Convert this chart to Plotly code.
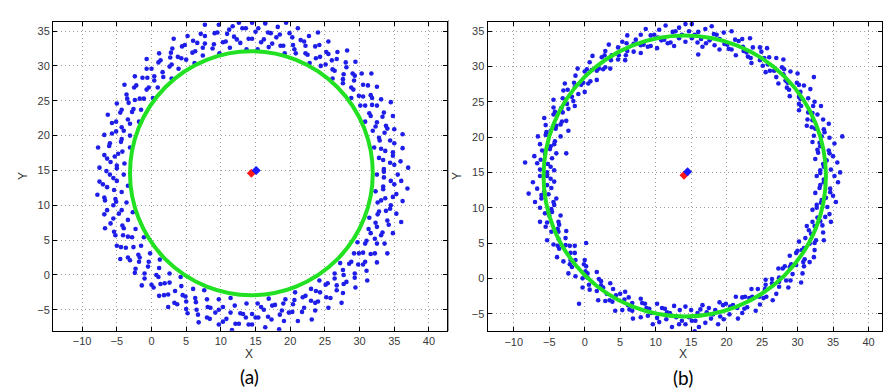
import plotly.graph_objects as go

# ---------------- data ----------------
x_ticks = [-10, -5, 0, 5, 10, 15, 20, 25, 30, 35, 40]
y_ticks = [-5, 0, 5, 10, 15, 20, 25, 30, 35]
captions = ["(a)", "(b)"]

# fitted circles: (cx, cy, r)
circle_a = (14.4, 14.6, 17.5)
circle_b = (14.1, 14.5, 19.9)

# estimated centres (red) and true centres (blue)
centre_red_a = (14.4, 14.6)
centre_blue_a = (15.1, 15.0)
centre_red_b = (14.0, 14.6)
centre_blue_b = (14.5, 15.1)

# scattered measurement points, panel (a)
points_a = [
    (32.5,14.4),(35.5,14.4),(33.5,15.2),(37.0,15.4),(34.4,16.1),(35.9,16.3),(32.8,16.8),(34.8,17.1),
    (33.7,17.8),(36.2,18.2),(32.1,18.3),(35.0,18.9),(32.9,19.3),(36.2,20.2),(33.6,20.4),(35.0,20.9),
    (31.9,20.7),(33.8,21.4),(32.5,21.9),(34.8,22.8),(30.8,22.0),(33.5,23.3),(31.4,23.2),(34.5,24.8),
    (31.8,24.4),(33.1,25.2),(30.1,24.3),(31.8,25.4),(30.5,25.6),(32.5,27.0),(28.8,25.4),(31.2,27.2),
    (29.1,26.6),(31.7,28.9),(29.2,27.9),(30.3,28.9),(27.6,27.5),(29.0,28.9),(27.7,28.8),(29.4,30.6),
    (26.1,28.2),(28.0,30.5),(26.1,29.5),(28.2,32.2),(26.0,30.8),(26.8,32.0),(24.4,30.0),(25.5,31.7),
    (24.3,31.3),(25.5,33.5),(22.8,30.4),(24.2,33.0),(22.5,31.6),(24.0,34.8),(22.2,32.9),(22.7,34.3),
    (20.8,31.8),(21.5,33.7),(20.4,33.0),(21.1,35.4),(19.2,31.8),(19.9,34.7),(18.6,32.9),(19.4,36.2),
    (18.0,34.1),(18.2,35.6),(16.9,32.7),(17.2,34.7),(16.2,33.8),(16.4,36.1),(15.3,32.4),(15.4,35.4),
    (14.5,33.9),(14.5,36.2),(13.7,32.4),(13.6,35.4),(12.8,33.3),(12.6,36.2),(11.9,34.2),(11.7,35.7),
    (11.3,32.6),(10.9,34.6),(10.3,33.4),(9.7,35.9),(9.8,31.8),(9.1,34.7),(8.8,32.5),(7.7,35.9),
    (7.7,33.2),(7.1,34.6),(7.4,31.5),(6.6,33.3),(6.3,32.1),(5.2,34.3),(6.2,30.4),(4.8,33.0),
    (5.0,30.9),(3.2,33.9),(3.8,31.3),(3.0,32.5),(3.9,29.6),(2.7,31.2),(2.6,29.9),(1.1,31.8),
    (2.9,28.2),(1.0,30.5),(1.7,28.4),(-0.7,31.0),(0.4,28.5),(-0.7,29.6),(0.9,26.9),(-0.6,28.3),
    (-0.4,26.9),(-2.4,28.5),(0.2,25.4),(-2.2,27.2),(-1.1,25.3),(-3.9,27.3),(-2.4,25.1),(-3.6,25.9),
    (-1.5,23.7),(-3.3,24.7),(-2.8,23.4),(-5.0,24.6),(-1.8,22.0),(-4.5,23.3),(-3.1,21.7),(-6.3,23.0),
    (-4.3,21.2),(-5.7,21.8),(-3.1,20.0),(-5.1,20.6),(-4.3,19.5),(-6.8,20.1),(-3.1,18.3),(-6.0,18.9),
    (-4.2,17.7),(-7.7,18.3),(-5.3,17.0),(-6.8,17.2),(-3.9,16.0),(-5.9,16.2),(-5.0,15.3),(-7.5,15.4),
    (-4.0,14.4),(-6.0,14.4),(-5.0,13.5),(-7.5,13.4),(-3.4,12.8),(-6.4,12.6),(-4.3,11.9),(-7.8,11.5),
    (-5.2,10.9),(-6.7,10.7),(-3.6,10.4),(-5.5,10.0),(-4.3,9.3),(-6.8,8.7),(-2.7,9.0),(-5.5,8.1),
    (-3.4,7.9),(-6.7,6.7),(-4.0,6.7),(-5.4,6.2),(-2.3,6.6),(-4.1,5.7),(-2.8,5.4),(-5.0,4.2),
    (-1.1,5.4),(-3.7,3.9),(-1.5,4.2),(-4.5,2.3),(-1.9,2.9),(-3.1,2.1),(-0.2,3.1),(-1.8,1.9),
    (-0.4,1.9),(-2.4,0.3),(1.2,2.2),(-1.0,0.2),(1.1,1.0),(-1.4,-1.5),(1.0,-0.3),(0.0,-1.4),
    (2.6,0.2),(1.3,-1.3),(2.6,-1.1),(1.1,-3.0),(4.2,-0.3),(2.4,-2.8),(4.3,-1.6),(2.4,-4.6),
    (4.5,-2.9),(3.7,-4.2),(6.0,-2.0),(5.0,-3.8),(6.3,-3.3),(5.2,-5.5),(7.6,-2.2),(6.5,-5.0),
    (8.0,-3.5),(6.8,-6.8),(8.5,-4.7),(8.0,-6.1),(9.7,-3.5),(9.2,-5.4),(10.3,-4.6),(9.7,-7.1),
    (11.4,-3.3),(10.8,-6.3),(12.0,-4.4),(11.6,-7.9),(12.8,-5.5),(12.6,-7.0),(13.7,-4.1),(13.6,-6.1),
    (14.5,-5.6),(14.5,-7.1),(15.3,-4.1),(15.4,-6.1),(16.2,-5.0),(16.4,-7.5),(16.9,-3.4),(17.3,-6.4),
    (17.8,-4.3),(18.4,-7.8),(18.8,-5.1),(19.1,-6.6),(19.3,-3.5),(19.8,-5.4),(20.4,-4.2),(21.1,-6.6),
    (20.7,-2.5),(21.7,-5.3),(21.8,-3.2),(23.1,-6.4),(23.0,-3.7),(23.6,-5.1),(23.0,-2.0),(24.0,-3.8),
    (24.3,-2.5),(25.5,-4.7),(24.2,-0.8),(25.8,-3.3),(25.4,-1.2),(27.4,-4.0),(26.7,-1.5),(27.6,-2.6),
    (26.4,0.2),(27.7,-1.3),(27.7,0.0),(29.4,-1.8),(27.2,1.7),(29.3,-0.4),(28.5,1.6),(31.1,-0.8),
    (29.8,1.5),(31.0,0.6),(29.2,3.1),(30.8,1.9),(30.5,3.2),(32.5,1.8),(29.7,4.7),(32.2,3.1),
    (31.0,4.9),(34.0,3.1),(32.2,5.2),(33.6,4.5),(31.3,6.6),(33.1,5.7),(32.5,6.9),(34.8,6.0),
    (31.4,8.2),(34.2,7.2),(32.6,8.7),(36.0,7.6),(33.8,9.2),(35.3,8.8),(32.6,10.4),(34.5,10.0),
    (33.7,11.0),(36.2,10.6),(32.3,12.0),(35.3,11.6),(33.4,12.7),(36.9,12.4),(34.5,13.5),(36.0,13.5),
]
points_a_mid = [
    (33.5,14.8),(14.0,33.9),(-5.5,13.9),(15.0,-6.1),(35.0,15.8),(13.1,35.4),(-7.0,13.0),(15.8,-4.6),
    (33.4,16.5),(12.3,33.8),(-5.4,12.2),(16.8,-6.0),(34.8,17.6),(11.2,35.2),(-6.8,11.1),(17.4,-4.4),
    (33.1,18.1),(10.7,33.5),(-5.1,10.5),(18.5,-5.7),(34.4,19.3),(9.5,34.8),(-6.4,9.3),(19.0,-4.1),
    (32.8,19.7),(9.0,33.1),(-4.7,8.8),(20.3,-5.3),(34.0,21.0),(7.7,34.3),(-5.9,7.4),(20.6,-3.6),
    (32.3,21.3),(7.4,32.6),(-4.2,7.1),(22.0,-4.7),(33.3,22.7),(6.0,33.6),(-5.2,5.7),(22.2,-3.0),
    (31.6,22.8),(5.9,31.9),(-3.4,5.5),(23.6,-4.0),(32.5,24.3),(4.4,32.8),(-4.4,4.0),(23.7,-2.3),
    (30.8,24.3),(4.3,31.1),(-2.6,4.0),(25.2,-3.2),(31.6,25.8),(2.8,31.9),(-3.4,2.5),(25.1,-1.4),
    (29.9,25.7),(2.9,30.2),(-1.7,2.5),(26.7,-2.2),(30.5,27.3),(1.3,30.8),(-2.3,0.9),(26.4,-0.5),
    (28.8,26.9),(1.6,29.1),(-0.5,1.2),(28.1,-1.0),(29.3,28.6),(0.0,29.6),(-1.0,-0.5),(27.6,0.7),
    (27.6,28.1),(0.4,27.9),(0.7,0.0),(29.3,0.2),(28.1,29.8),(-1.3,28.3),(0.3,-1.8),(28.8,1.9),
    (26.4,29.3),(-0.7,26.6),(1.9,-1.2),(30.5,1.5),(26.7,31.0),(-2.5,26.9),(1.8,-2.9),(29.9,3.1),
    (25.1,30.2),(-1.7,25.3),(3.4,-2.3),(31.6,3.0),(25.2,32.0),(-3.5,25.3),(3.3,-4.0),(30.8,4.5),
    (23.7,31.1),(-2.6,23.8),(4.9,-3.1),(32.5,4.5),(23.6,32.8),(-4.3,23.7),(5.0,-4.9),(31.6,6.0),
    (22.2,31.8),(-3.4,22.3),(6.4,-3.9),(33.3,6.1),(22.0,33.5),(-5.1,22.0),(6.7,-5.7),(32.3,7.5),
    (20.6,32.4),(-4.0,20.7),(8.1,-4.6),(34.0,7.8),(20.3,34.1),(-5.7,20.3),(8.4,-6.3),(32.8,9.1),
    (19.0,32.9),(-4.4,19.1),(9.7,-5.0),(34.4,9.5),(18.5,34.5),(-6.1,18.5),(10.3,-6.7),(33.1,10.7),
    (17.4,33.2),(-4.8,17.4),(11.4,-5.4),(34.8,11.2),(16.8,34.8),(-6.4,16.7),(12.1,-7.0),(33.4,12.3),
    (15.8,33.4),(-5.0,15.7),(13.2,-5.6),(35.0,13.0),(15.0,34.9),(-6.5,14.9),(14.0,-7.1),(33.5,14.0),
]

# scattered measurement points, panel (b)
points_b = [
    (32.7,14.5),(35.2,14.5),(33.2,15.3),(34.7,15.4),(33.6,16.2),(35.6,16.4),(32.5,16.9),(35.0,17.3),
    (32.9,17.8),(34.4,18.1),(33.2,18.7),(35.2,19.1),(32.1,19.3),(34.5,19.9),(32.3,20.2),(33.8,20.7),
    (32.5,21.2),(34.4,21.9),(31.3,21.6),(33.6,22.5),(31.4,22.5),(32.8,23.2),(31.5,23.5),(33.3,24.4),
    (30.2,23.8),(32.4,25.0),(30.2,24.7),(31.5,25.5),(30.2,25.7),(31.8,26.8),(28.9,25.8),(30.9,27.3),
    (28.8,26.7),(29.9,27.7),(28.6,27.7),(30.0,29.0),(27.3,27.6),(29.0,29.3),(27.0,28.5),(28.1,29.6),
    (26.7,29.4),(28.0,31.0),(25.5,29.2),(27.0,31.2),(25.1,30.1),(26.0,31.3),(24.7,30.9),(25.7,32.6),
    (23.5,30.5),(24.7,32.7),(23.0,31.4),(23.7,32.7),(22.4,32.2),(23.3,34.0),(21.3,31.6),(22.2,33.9),
    (20.7,32.4),(21.2,33.8),(20.1,33.1),(20.7,35.0),(19.0,32.4),(19.6,34.8),(18.3,33.0),(18.6,34.5),
    (17.6,33.7),(17.9,35.7),(16.6,32.8),(17.0,35.3),(15.9,33.4),(16.0,34.9),(15.1,34.0),(15.1,36.0),
    (14.2,33.5),(14.2,36.0),(13.3,34.0),(13.3,35.5),(12.6,32.9),(12.4,34.9),(11.7,33.3),(11.4,35.8),
    (10.8,33.7),(10.5,35.2),(10.2,32.6),(9.8,34.5),(9.3,32.9),(8.6,35.3),(8.3,33.1),(7.9,34.5),
    (7.9,31.9),(7.2,33.8),(6.9,32.1),(6.0,34.4),(6.0,32.2),(5.3,33.5),(5.7,30.9),(4.7,32.7),
    (4.7,31.0),(3.4,33.1),(3.7,30.9),(2.9,32.2),(3.6,29.7),(2.4,31.3),(2.6,29.6),(1.1,31.5),
    (1.7,29.4),(0.7,30.6),(1.7,28.1),(0.3,29.6),(0.8,27.9),(-1.0,29.7),(-0.2,27.7),(-1.3,28.7),
    (0.0,26.4),(-1.5,27.7),(-0.9,26.1),(-2.8,27.6),(-1.8,25.7),(-3.0,26.6),(-1.4,24.4),(-3.1,25.5),
    (-2.3,24.0),(-4.4,25.3),(-3.1,23.5),(-4.4,24.2),(-2.6,22.3),(-4.4,23.2),(-3.4,21.8),(-5.7,22.7),
    (-4.1,21.2),(-5.5,21.7),(-3.4,20.1),(-5.4,20.7),(-4.2,19.4),(-6.6,20.1),(-4.8,18.7),(-6.3,19.0),
    (-4.0,17.7),(-6.0,18.1),(-4.6,17.0),(-7.1,17.3),(-5.2,16.2),(-6.7,16.3),(-4.3,15.3),(-6.3,15.4),
    (-5.3,14.5),(-6.3,14.5),(-4.3,13.7),(-7.3,13.6),(-4.7,12.8),(-6.7,12.7),(-5.1,11.9),(-6.1,11.8),
    (-4.0,11.3),(-7.0,10.8),(-4.3,10.4),(-6.3,10.0),(-4.6,9.4),(-5.6,9.2),(-3.4,8.9),(-6.3,8.0),
    (-3.7,8.0),(-5.5,7.3),(-3.8,7.0),(-4.7,6.6),(-2.6,6.7),(-5.3,5.4),(-2.7,5.7),(-4.4,4.8),
    (-2.7,4.7),(-3.6,4.2),(-1.4,4.6),(-3.9,3.0),(-1.4,3.6),(-3.0,2.4),(-1.3,2.6),(-2.1,2.0),
    (0.0,2.6),(-2.3,0.7),(0.2,1.7),(-1.3,0.3),(0.4,0.7),(-0.3,0.0),(1.7,0.9),(-0.3,-1.3),
    (2.0,-0.1),(0.7,-1.6),(2.3,-1.0),(1.7,-1.8),(3.6,-0.7),(1.9,-3.1),(4.0,-1.5),(2.9,-3.2),
    (4.4,-2.4),(3.9,-3.3),(5.7,-1.9),(4.3,-4.6),(6.2,-2.7),(5.3,-4.5),(6.7,-3.5),(6.3,-4.4),
    (7.9,-2.9),(6.8,-5.7),(8.5,-3.6),(7.9,-5.5),(9.1,-4.3),(8.9,-5.3),(10.2,-3.6),(9.6,-6.5),
    (10.9,-4.2),(10.5,-6.2),(11.6,-4.8),(11.5,-5.8),(12.6,-3.9),(12.3,-6.9),(13.4,-4.5),(13.3,-6.5),
    (14.2,-4.0),(14.2,-6.5),(15.0,-4.5),(15.1,-6.0),(15.9,-4.9),(16.1,-6.9),(16.6,-3.8),(17.0,-6.3),
    (17.5,-4.2),(17.8,-5.7),(18.4,-4.5),(18.8,-6.5),(19.0,-3.4),(19.6,-5.8),(19.9,-3.6),(20.4,-5.1),
    (20.9,-3.8),(21.6,-5.7),(21.3,-2.6),(22.2,-4.9),(22.2,-2.7),(22.9,-4.1),(23.2,-2.8),(24.1,-4.6),
    (23.5,-1.5),(24.7,-3.7),(24.4,-1.5),(25.2,-2.8),(25.4,-1.5),(26.5,-3.1),(25.5,-0.2),(27.0,-2.2),
    (26.4,-0.1),(27.4,-1.2),(27.4,0.1),(28.7,-1.3),(27.3,1.4),(29.0,-0.3),(28.2,1.7),(29.3,0.6),
    (29.1,2.0),(30.7,0.7),(28.9,3.2),(30.9,1.7),(29.8,3.6),(31.0,2.7),(30.6,4.0),(32.3,3.0),
    (30.2,5.2),(32.4,4.0),(31.1,5.7),(32.4,5.0),(31.9,6.3),(33.7,5.4),(31.3,7.4),(33.6,6.5),
    (32.1,8.0),(33.5,7.5),(32.8,8.6),(34.7,8.0),(32.1,9.7),(34.5,9.1),(32.7,10.4),(34.2,10.1),
    (33.4,11.1),(35.4,10.8),(32.5,12.1),(35.0,11.7),(33.1,12.8),(34.6,12.7),(33.7,13.6),(35.7,13.6),
]
points_b_mid = [
    (33.2,14.9),(13.7,34.5),(-4.8,14.1),(14.7,-5.5),(33.7,15.8),(12.8,35.0),(-5.3,13.2),(15.6,-6.0),
    (34.1,16.7),(12.1,33.4),(-5.7,12.3),(16.3,-4.4),(34.5,17.7),(11.2,33.8),(-6.1,11.3),(17.2,-4.8),
    (32.8,18.2),(10.3,34.1),(-4.4,10.8),(18.1,-5.1),(33.1,19.2),(9.3,34.4),(-4.7,9.8),(19.1,-5.4),
    (33.4,20.1),(8.9,32.8),(-5.0,8.9),(19.5,-3.8),(33.7,21.1),(7.9,33.0),(-5.3,7.9),(20.5,-4.0),
    (32.0,21.4),(6.9,33.2),(-3.6,7.6),(21.5,-4.2),(32.1,22.4),(5.9,33.3),(-3.7,6.6),(22.5,-4.3),
    (32.1,23.4),(5.8,31.6),(-3.7,5.6),(22.6,-2.6),(32.2,24.4),(4.8,31.6),(-3.8,4.6),(23.6,-2.6),
    (30.5,24.4),(3.8,31.6),(-2.1,4.6),(24.6,-2.6),(30.4,25.4),(2.8,31.6),(-2.0,3.6),(25.6,-2.6),
    (30.4,26.4),(2.9,29.9),(-2.0,2.6),(25.5,-0.9),(30.2,27.4),(2.0,29.7),(-1.8,1.6),(26.4,-0.7),
    (28.5,27.0),(1.0,29.5),(-0.1,2.0),(27.4,-0.5),(28.3,28.0),(0.0,29.3),(0.1,1.0),(28.4,-0.3),
    (28.0,28.9),(0.5,27.6),(0.4,0.1),(27.9,1.4),(27.8,29.9),(-0.5,27.4),(0.6,-0.9),(28.9,1.6),
    (26.1,29.4),(-1.4,27.1),(2.3,-0.4),(29.8,1.9),(25.8,30.3),(-2.4,26.7),(2.6,-1.3),(30.8,2.3),
    (25.3,31.2),(-1.6,25.1),(3.1,-2.2),(30.0,3.9),(24.9,32.1),(-2.5,24.7),(3.5,-3.1),(30.9,4.3),
    (23.4,31.2),(-3.3,24.1),(5.0,-2.2),(31.7,4.9),(22.8,32.0),(-4.2,23.6),(5.6,-3.0),(32.6,5.4),
    (22.3,32.8),(-3.2,22.2),(6.1,-3.8),(31.6,6.8),(21.7,33.6),(-4.0,21.6),(6.7,-4.6),(32.4,7.4),
    (20.3,32.5),(-4.8,20.9),(8.1,-3.5),(33.2,8.1),(19.7,33.2),(-5.5,20.3),(8.7,-4.2),(33.9,8.7),
    (19.0,33.9),(-4.3,19.0),(9.4,-4.9),(32.7,10.0),(18.2,34.6),(-4.9,18.3),(10.2,-5.6),(33.3,10.7),
    (17.1,33.3),(-5.6,17.6),(11.3,-4.3),(34.0,11.4),(16.4,33.9),(-6.2,16.8),(12.0,-4.9),(34.6,12.2),
    (15.5,34.5),(-4.8,15.8),(12.9,-5.5),(33.2,13.2),(14.7,35.0),(-5.3,15.0),(13.7,-6.0),(33.7,14.0),
]
points_b_outliers = [
    (-8.4,16.4),(-2.3,20.9),(-2.6,17.7),(36.3,20.1),(32.3,28.5),(16.0,31.7),(-0.8,-3.6),
    (30.5,-0.6),(31.7,2.3),(0.2,5.0),(15.5,-7.5),(-7.9,12.0),(36.0,15.0),
]

# ---------------- figure ----------------
W, H = 891, 388
BLUE = "#1e1ee8"
GREEN = "#22e022"
TICKFONT = dict(family="Liberation Sans, Arial, sans-serif", size=11, color="#3a3a3a")

fig = go.Figure()

panels = [
    dict(pts=points_a + points_a_mid, circ=circle_a, red=centre_red_a, blue=centre_blue_a,
         xa="x", ya="y"),
    dict(pts=points_b + points_b_mid + points_b_outliers, circ=circle_b, red=centre_red_b,
         blue=centre_blue_b, xa="x2", ya="y2"),
]

for p in panels:
    fig.add_trace(go.Scatter(
        x=[q[0] for q in p["pts"]], y=[q[1] for q in p["pts"]],
        mode="markers", marker=dict(size=4.6, color=BLUE, line=dict(width=0)),
        xaxis=p["xa"], yaxis=p["ya"], showlegend=False, hoverinfo="skip"))
    cx, cy, r = p["circ"]
    fig.add_shape(type="circle", xref=p["xa"], yref=p["ya"],
                  x0=cx - r, x1=cx + r, y0=cy - r, y1=cy + r,
                  line=dict(color=GREEN, width=4), layer="above")
    fig.add_trace(go.Scatter(
        x=[p["red"][0]], y=[p["red"][1]], mode="markers",
        marker=dict(symbol="diamond", size=7, color="#ff1a1a"),
        xaxis=p["xa"], yaxis=p["ya"], showlegend=False, hoverinfo="skip"))
    fig.add_trace(go.Scatter(
        x=[p["blue"][0]], y=[p["blue"][1]], mode="markers",
        marker=dict(symbol="diamond", size=7, color="#1a1aff"),
        xaxis=p["xa"], yaxis=p["ya"], showlegend=False, hoverinfo="skip"))

axis_common = dict(
    showline=True, linecolor="black", linewidth=1, mirror="ticks",
    ticks="inside", ticklen=4, tickcolor="black", tickwidth=1,
    showgrid=True, gridcolor="#a0a0a0", griddash="1px,3px", gridwidth=1,
    zeroline=False, tickfont=TICKFONT, fixedrange=True,
)

fig.update_layout(
    width=W, height=H,
    margin=dict(l=0, r=0, t=0, b=0),
    paper_bgcolor="white", plot_bgcolor="white",
    xaxis=dict(domain=[45 / W, 439 / W], range=[-14.2, 42.6], tickvals=x_ticks,
               anchor="y", **axis_common),
    yaxis=dict(domain=[1 - 322.7 / H, 1 - 14 / H], range=[-8.0, 36.3], tickvals=y_ticks,
               anchor="x", **axis_common),
    xaxis2=dict(domain=[479.5 / W, 874 / W], range=[-13.7, 41.9], tickvals=x_ticks,
                anchor="y2", **axis_common),
    yaxis2=dict(domain=[1 - 323.3 / H, 1 - 14 / H], range=[-7.5, 36.3], tickvals=y_ticks,
                anchor="x2", **axis_common),
)

# separator line at the left edge of the right image
fig.add_shape(type="line", xref="paper", yref="paper",
              x0=440.5 / W, x1=440.5 / W, y0=1 - 323 / H, y1=1 - 12 / H,
              line=dict(color="#9a9a9a", width=1))

label_font = dict(family="Liberation Sans, Arial, sans-serif", size=12, color="#333333")
cap_font = dict(family="Lato, Open Sans, sans-serif", size=19, color="black")

def ann(text, xp, yp, font, angle=0):
    fig.add_annotation(text=text, x=xp / W, y=1 - yp / H, xref="paper", yref="paper",
                       showarrow=False, font=font, textangle=angle,
                       xanchor="center", yanchor="middle")

ann("X", 241, 346, label_font)
ann("X", 675, 346, label_font)
ann("Y", 15, 168, label_font, -90)
ann("Y", 449, 168, label_font, -90)
ann(captions[0], 241, 368, cap_font)
ann(captions[1], 675, 369, cap_font)

fig.write_html("out.html")
